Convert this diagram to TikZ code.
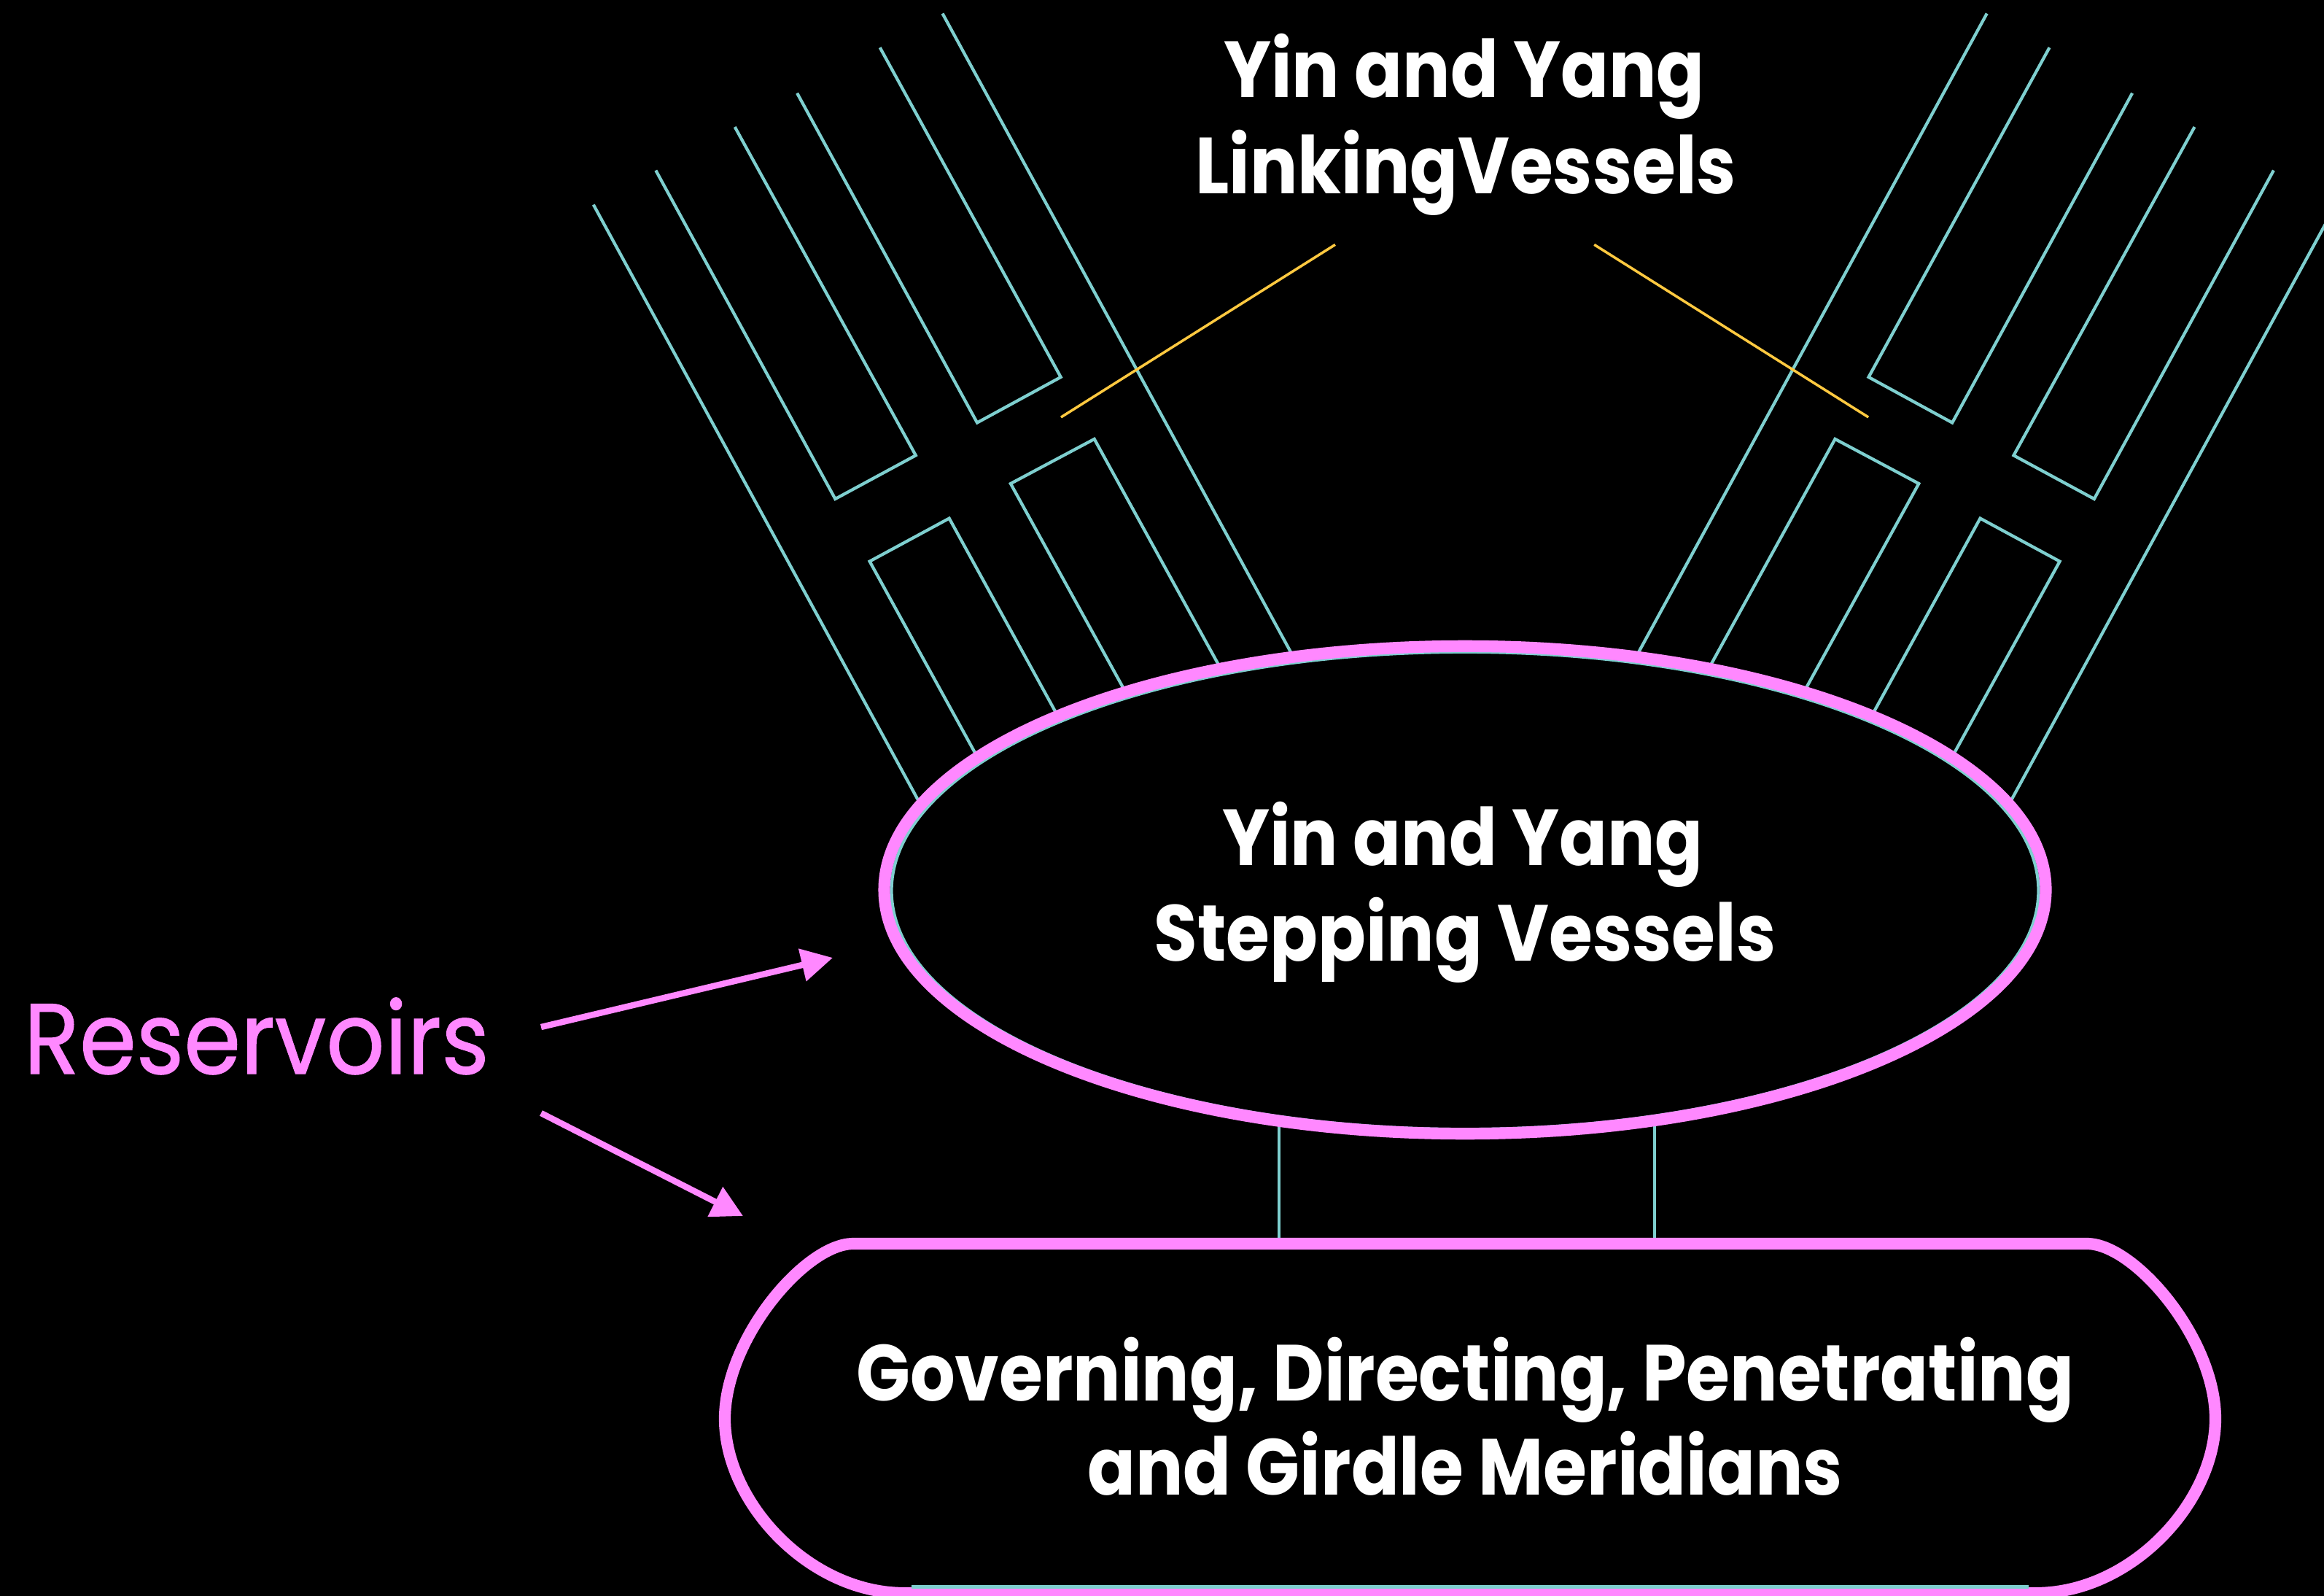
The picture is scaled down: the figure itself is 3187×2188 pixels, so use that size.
\documentclass[tikz,border=0pt]{standalone}
\usepackage{fontspec}
\usetikzlibrary{arrows.meta,shapes.geometric}
\newfontfamily\popfont[FakeStretch=0.89]{Poppins}
\newfontfamily\resfont[FakeStretch=0.915,FakeBold=0.8]{Poppins}
\definecolor{vpink}{HTML}{FF88FF}
\definecolor{vcyan}{HTML}{7ECFCF}
\definecolor{vyellow}{HTML}{FFC940}
\tikzset{
  vessel/.style={draw=vcyan, line width=1.2pt, line join=miter},
  guide/.style={draw=vyellow, line width=1pt},
  rim/.style={draw=vpink, line width=4.6pt},
  title/.style={text=white, font=\popfont\bfseries\fontsize{31}{36}\selectfont, inner sep=0pt, anchor=base},
  resarrow/.style={draw=vpink, line width=2.4pt, -{Triangle[length=12.2pt,width=12.5pt]}},
}
\newcommand\vesselhalf{%
  \draw[vessel] (813.8,280.6) -- (1288,1150);
  \draw[vessel] (899.3,233.6) -- (1145.4,684) -- (1255.8,624.3) -- (1007.7,174);
  \draw[vessel] (1093.1,127.7) -- (1340,579.5) -- (1454.7,517) -- (1206.7,65.2);
  \draw[vessel] (1292.5,18.5) -- (1800.6,950);
  \draw[vessel] (1365.6,1083.9) -- (1192.6,769.6) -- (1301.7,710.6) -- (1475.2,1026.4);
  \draw[vessel] (1567.7,992.7) -- (1385.9,663) -- (1500.7,601.9) -- (1698.5,961.2);
  \draw[guide] (1455,572) -- (1831,335.4);
}
\begin{document}
\begin{tikzpicture}[x=0.01cm, y=-0.01cm]
\useasboundingbox (0,0) rectangle (3187,2188);
\fill[black] (0,0) rectangle (3187,2188);
\clip (0,0) rectangle (3187,2188);

% linking vessels, left half and its mirror image
\vesselhalf
\begin{scope}[shift={(4017.2,0)}, xscale=-1]
  \vesselhalf
\end{scope}

% lower block (frame node for anchors)
\node[draw=none, inner sep=0pt, outer sep=0pt, minimum width=19cm, minimum height=4.79cm] (gov) at (2016,1945) {};

% connectors between the two vessel blocks
\coordinate (v1) at (1753.6,1400);
\coordinate (v2) at (2269,1400);
\draw[vessel] (v1) -- (gov.north -| v1);
\draw[vessel] (v2) -- (gov.north -| v2);

% stepping vessels ellipse
\fill[black] (2009,1220) ellipse [x radius=7.96cm, y radius=3.34cm];
\draw[vessel] (2009,1221) ellipse [x radius=7.86cm, y radius=3.27cm];
\node[rim, ellipse, inner sep=0pt, minimum width=15.92cm, minimum height=6.68cm] (sv) at (2009,1220) {};

% governing block
\draw[rim, fill=black] (1170,1705) -- (2862,1705)
  .. controls (2927,1705) and (3038,1835) .. (3038,1945)
  .. controls (3038,2060) and (2922,2184) .. (2792,2184)
  -- (1240,2184)
  .. controls (1110,2184) and (994,2060) .. (994,1945)
  .. controls (994,1835) and (1105,1705) .. (1170,1705) -- cycle;
\draw[vessel] (1250,2175.5) -- (2782,2175.5);

% texts
\node[title] (t1) at (2008,134) {Yin and Yang};
\node[title] (t2) at (2010,265) {LinkingVessels};
\node[title] (s1) at (2006,1186) {Yin and Yang};
\node[title] (s2) at (2009,1317) {Stepping Vessels};
\node[title] (g1) at (2009,1920) {Governing, Directing, Penetrating};
\node[title] (g2) at (2009,2049) {and Girdle Meridians};

% reservoirs
\node[text=vpink, font=\resfont\fontsize{39}{45}\selectfont, anchor=base west, inner sep=0pt] (res) at (32,1472) {Reservoirs};
\coordinate (a1s) at (742,1408);
\coordinate (a1e) at (1142,1313);
\coordinate (a2s) at (742,1526);
\coordinate (a2e) at (1019,1667);
\draw[resarrow] (a1s) -- (a1e);
\draw[resarrow] (a2s) -- (a2e);
\end{tikzpicture}
\end{document}
